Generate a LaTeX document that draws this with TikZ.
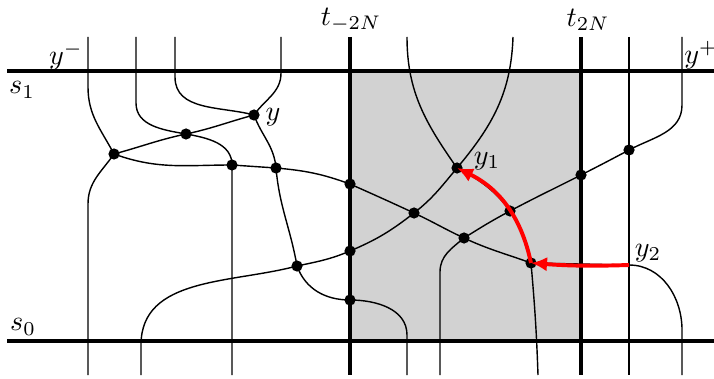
\documentclass[tikz,border=0pt]{standalone}
\usepackage{amsmath}
\usepackage{tikz}
\usetikzlibrary{arrows.meta}

\begin{document}
\begin{tikzpicture}[
    x=0.0125cm, y=0.0125cm,
    dot/.style={circle, fill=black, inner sep=0pt, minimum size=0.14cm},
    bar/.style={line width=1.4pt},
    strand/.style={line width=0.5pt},
    move/.style={-{Latex[length=2mm, width=1.8mm]}, red, line width=1.4pt}
]
\useasboundingbox (0,0) rectangle (714,378);
\fill[gray!35] (350,37) rectangle (581,307);

\node (tm) at (351,358) {$t_{-2N}$};
\node (tp) at (588,358) {$t_{2N}$};
\node (ym) at (66,322) {$y^-$};
\node (yp) at (701,323) {$y^+$};
\node (s1) at (22,288) {$s_1$};
\node (s0) at (23,51) {$s_0$};

\node[dot] (d1) at (114,224) {};
\node[dot] (d2) at (186,244) {};
\node[dot] (y) at (254,263) {};
\node[dot] (d3) at (232,213) {};
\node[dot] (d4) at (276,210) {};
\node[dot] (d5) at (350,194) {};
\node[dot] (d6) at (297,112) {};
\node[dot] (d7) at (350,127) {};
\node[dot] (d8) at (350,78) {};
\node[dot] (d9) at (414,165) {};
\node[dot] (y1) at (457,210) {};
\node[dot] (d10) at (510,167) {};
\node[dot] (d11) at (464,140) {};
\node[dot] (b) at (531,115) {};
\node[dot] (d12) at (581,203) {};
\node[dot] (d13) at (629,228) {};
\coordinate (y2) at (629,113);

\node (ylab) at (273,261) {$y$};
\node (y1lab) at (487,217) {$y_1$};
\node (y2lab) at (648,125) {$y_2$};

\coordinate (tA) at (88,341);
\coordinate (tB) at (136,341);
\coordinate (tC) at (175,341);
\coordinate (tD) at (281,341);
\coordinate (tE) at (407,341);
\coordinate (tF) at (513,341);
\coordinate (tG) at (629,341);
\coordinate (tH) at (682,341);
\coordinate (bA) at (88,3);
\coordinate (bB) at (141,3);
\coordinate (bC) at (232,3);
\coordinate (bD) at (407,3);
\coordinate (bE) at (440,3);
\coordinate (bF) at (538,3);
\coordinate (bG) at (629,3);
\coordinate (bH) at (682,3);

\draw[strand] (tA) -- ++(0,-50) to[out=-90,in=118] (d1.center) to[out=-20,in=180] (d3.center) -- (d4.center) to[out=-5,in=160] (d5.center) to[out=-24,in=155] (d9.center) to[out=-25,in=155] (d11.center) to[out=-25,in=160] (b.center) -- (y2) to[out=0,in=90] ++(53,-65) -- (bH);
\draw[strand] (tD) -- ++(0,-36) to[out=-90,in=55] (y.center) to[out=195,in=12] (d2.center) to[out=192,in=15] (d1.center) to[out=235,in=90] ++(-26,-50) -- (bA);
\draw[strand] (tB) -- ++(0,-66) to[out=-90,in=170] (d2.center) to[out=-10,in=90] (d3.center) -- (bC);
\draw[strand] (tC) -- ++(0,-40) to[out=-90,in=165] (y.center) to[out=-70,in=95] (d4.center) to[out=-85,in=100] (d6.center) to[out=-70,in=180] (d8.center) to[out=0,in=90] ++(57,-35) -- (bD);
\draw[strand] (bB) -- ++(0,30) to[out=90,in=195] (d6.center) to[out=12,in=203] (d7.center) to[out=23,in=218] (d9.center) to[out=38,in=230] (y1.center) to[out=50,in=-92] (tF);
\draw[strand] (tE) to[out=-90,in=125] (y1.center) to[bend left=26] (b.center) to[out=-85,in=92] (bF);
\draw[strand] (bE) -- ++(0,103) to[out=90,in=220] (d11.center) to[out=32,in=208] (d10.center) to[out=28,in=207] (d12.center) to[out=27,in=208] (d13.center) to[out=28,in=-90] ++(53,45) -- (tH);
\draw[strand] (tG) -- (bG);

\draw[bar] (7,307) -- (714,307);
\draw[bar] (7,37) -- (714,37);
\draw[bar] (350,341) -- (350,3);
\draw[bar] (581,341) -- (581,3);

\draw[move] (y2) to[bend left=3] (b.center);
\draw[move] (b.center) to[bend right=26] (y1.center);
\end{tikzpicture}
\end{document}
